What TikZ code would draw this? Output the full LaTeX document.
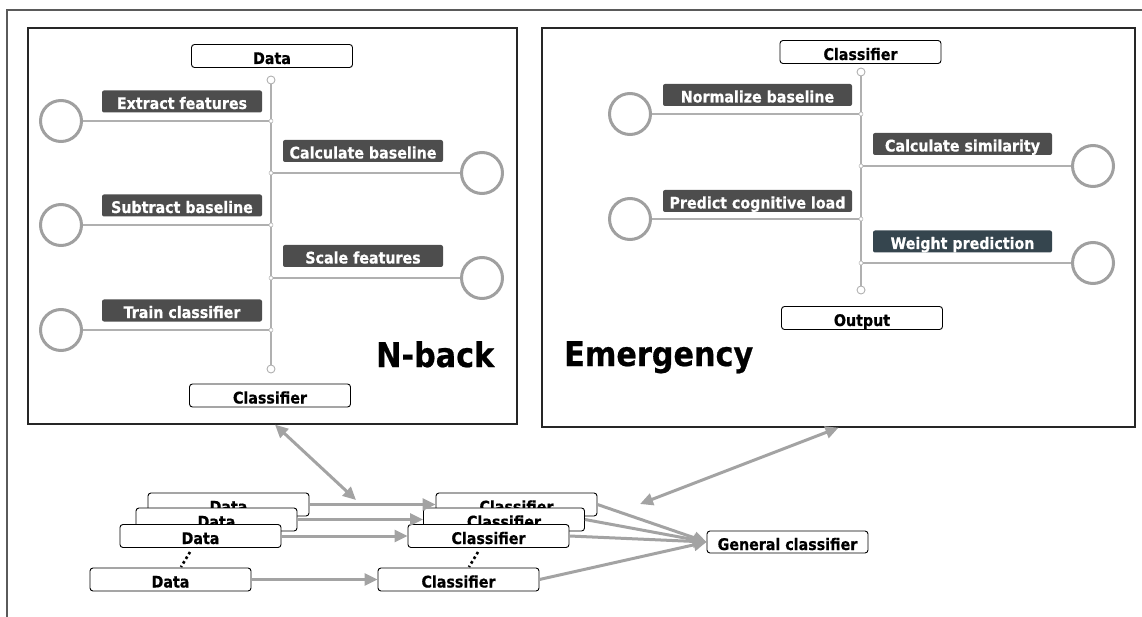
\documentclass[tikz,border=0pt]{standalone}
\usepackage{fontspec}
\setmainfont{DejaVu Sans}[FakeStretch=0.89, BoldFeatures={FakeBold=0.6}]
\usetikzlibrary{arrows.meta}
\pgfdeclarelayer{back}
\pgfsetlayers{back,main}

\definecolor{tagfill}{HTML}{4D4D4D}
\definecolor{tagslate}{HTML}{35454E}
\definecolor{ringgray}{HTML}{A0A0A0}
\definecolor{spinegray}{HTML}{B0B0B0}
\definecolor{flowgray}{HTML}{A3A3A3}
\definecolor{framegray}{HTML}{5A5A5A}

\tikzset{
  txt/.style={font=\fontsize{16}{18}\selectfont\bfseries},
  panel/.style={draw=black!85, line width=1.3pt, inner sep=0},
  wbox/.style={txt, draw=black, line width=0.9pt, rounded corners=3pt, fill=white,
    minimum width=161pt, minimum height=23pt, inner sep=0, text height=16pt, text depth=0pt},
  tag/.style={txt, text=white, fill=tagfill, rounded corners=2pt,
    minimum height=22pt, inner sep=0, text height=15pt, text depth=0pt},
  ring/.style={circle, draw=ringgray, line width=3pt, fill=white, minimum size=41pt, inner sep=0},
  knot/.style={circle, draw=spinegray, line width=0.9pt, fill=white, minimum size=8pt, inner sep=0},
  joint/.style={circle, draw=spinegray, line width=0.5pt, fill=white, minimum size=4pt, inner sep=0},
  spine/.style={draw=spinegray, line width=1.8pt},
  tip/.tip={Triangle[length=13pt,width=12pt]},
  flow/.style={draw=flowgray, line width=3pt, -tip},
  twoway/.style={draw=flowgray, line width=3pt, tip-tip},
  title/.style={font=\fontsize{34}{36}\selectfont\bfseries, anchor=base west, inner sep=0},
  dots/.style={draw=black, line width=2.6pt, dash pattern=on 2.6pt off 2.8pt},
}

\begin{document}
\begin{tikzpicture}[x=1pt, y=-1pt]
\useasboundingbox (0,0) rectangle (1142,617);

% outer frame
\draw[framegray, line width=1.3pt] (1142,10) -- (7,10) -- (7,617);

% ---------- N-back panel ----------
\node[panel, minimum width=489pt, minimum height=396pt] (nback) at (272.5,226) {};
\node[wbox] (nbdata) at (272,56) {Data};
\node[wbox] (nbclf) at (270,395.5) {Classifier};
\node[knot] (nbtop) at (271,80) {};
\node[knot] (nbbot) at (271,369) {};
\node[title] (nbtitle) at (376,367) {N-back};

\foreach \i/\y/\side/\lab in {1/121/L/Extract features, 2/173/R/Calculate baseline,
    3/225/L/Subtract baseline, 4/278/R/Scale features, 5/330/L/Train classifier}{
  \node[joint] (nbj\i) at (271,\y) {};
  \if L\side
    \node[ring] (nbr\i) at (61,\y) {};
    \node[tag, minimum width=160pt] (nbt\i) at (182,\y-19.5) {\lab};
  \else
    \node[ring] (nbr\i) at (482,\y) {};
    \node[tag, minimum width=160pt] (nbt\i) at (363,\y-22) {\lab};
  \fi
  \begin{pgfonlayer}{back}
    \draw[spine] (nbr\i) -- (nbj\i.center);
  \end{pgfonlayer}
}
\begin{pgfonlayer}{back}
  \draw[spine] (nbtop) -- (nbbot);
\end{pgfonlayer}

% ---------- Emergency panel ----------
\node[panel, minimum width=593pt, minimum height=399pt] (emerg) at (838.5,227.5) {};
\node[wbox] (emclf) at (860.5,52) {Classifier};
\node[wbox] (emout) at (862,318) {Output};
\node[knot] (emtop) at (861,72) {};
\node[knot] (embot) at (861,290) {};
\node[title] (emtitle) at (564,366) {Emergency};

\node[joint] (emj1) at (861,114) {};
\node[ring] (emr1) at (630,114) {};
\node[tag, minimum width=189pt] (emt1) at (757.5,95) {Normalize baseline};

\node[joint] (emj2) at (861,166) {};
\node[ring] (emr2) at (1093,166) {};
\node[tag, minimum width=179pt] (emt2) at (962.5,144) {Calculate similarity};

\node[joint] (emj3) at (861,219) {};
\node[ring] (emr3) at (630,219) {};
\node[tag, minimum width=189pt] (emt3) at (757.5,201) {Predict cognitive load};

\node[joint] (emj4) at (861,263) {};
\node[ring] (emr4) at (1093,263) {};
\node[tag, minimum width=179pt, fill=tagslate] (emt4) at (962.5,241.5) {Weight prediction};

\begin{pgfonlayer}{back}
  \draw[spine] (emtop) -- (embot);
  \foreach \i in {1,...,4}{ \draw[spine] (emr\i) -- (emj\i.center); }
\end{pgfonlayer}

% ---------- per-subject training, bottom ----------
\node[wbox] (d1) at (228.5,504.5) {Data};
\node[wbox] (d2) at (216.5,519.5) {Data};
\node[wbox] (d3) at (200.5,536) {Data};
\node[wbox] (d4) at (170.5,579.5) {Data};

\node[wbox] (c1) at (516.5,504.5) {Classifier};
\node[wbox] (c2) at (504,519.5) {Classifier};
\node[wbox] (c3) at (488.5,536) {Classifier};
\node[wbox] (c4) at (458.5,579.5) {Classifier};

\node[wbox, minimum width=161pt, minimum height=22pt] (gen) at (787.5,542) {General classifier};

\draw[dots] (190,552) -- (181,567);
\draw[dots] (478,552) -- (469,567);

\foreach \i in {1,...,4}{
  \draw[flow] (d\i.east) -- (c\i.west);
  \draw[flow] (c\i.east) -- (gen.west);
}

% links between the panels and the stacks
\coordinate (nbtip) at (356,500);
\coordinate (emtip) at (640,504);
\draw[twoway] ([xshift=2.5pt]nback.south) -- (nbtip);
\draw[twoway] (emerg.south) -- (emtip);

\end{tikzpicture}
\end{document}
